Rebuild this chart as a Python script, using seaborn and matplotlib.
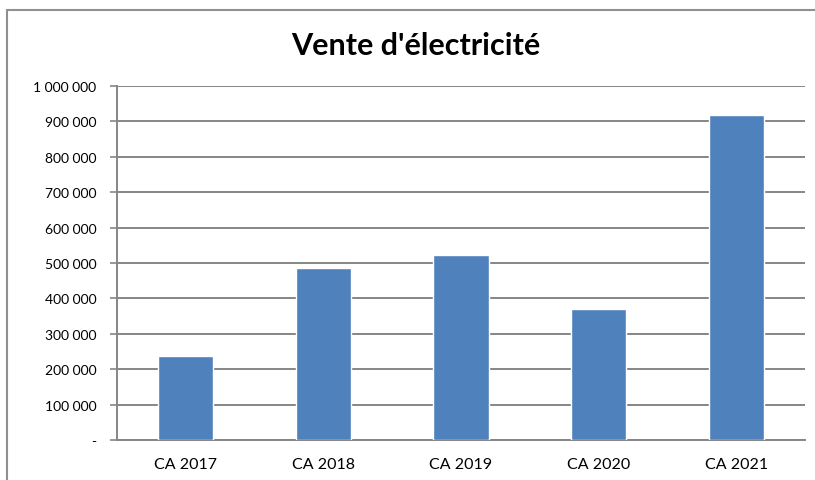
import pandas as pd
import matplotlib
matplotlib.use("Agg")
import matplotlib.pyplot as plt
import matplotlib.ticker as mticker
from matplotlib.lines import Line2D
import seaborn as sns

# Chart data
categories = ["CA 2017", "CA 2018", "CA 2019", "CA 2020", "CA 2021"]
ventes = [237000, 486000, 522000, 370000, 919000]

data = pd.DataFrame({"annee": categories, "vente": ventes})

sns.set_style("white")
plt.rcParams["font.family"] = ["Lato", "DejaVu Sans"]
plt.rcParams["text.color"] = "black"

grey = "#868686"
fig = plt.figure(figsize=(8.15, 4.81), dpi=100)
ax = fig.add_axes([117 / 815, 1 - 441 / 481, (805 - 117) / 815, (441 - 87) / 481])

sns.barplot(data=data, x="annee", y="vente", color="#4F81BD", saturation=1,
            width=0.4, ax=ax, zorder=3)

ax.set_ylim(0, 1000000)
ax.set_xlim(-0.5, len(categories) - 0.5)
ax.yaxis.set_major_locator(mticker.MultipleLocator(100000))


def fmt(v, pos):
    if v == 0:
        return "-"
    return f"{int(v):,}".replace(",", " ")


ax.yaxis.set_major_formatter(mticker.FuncFormatter(fmt))
ax.grid(axis="y", color=grey, linewidth=1.4, zorder=0)
ax.set_axisbelow(True)

# x ticks at category boundaries
ax.set_xticks([i - 0.5 for i in range(len(categories) + 1)], minor=True)
ax.tick_params(axis="x", which="major", length=0, pad=12, labelsize=11.5, labelcolor="black")
ax.tick_params(axis="x", which="minor", length=5, width=1.2, color=grey, direction="out")
ax.tick_params(axis="y", length=5, width=1.2, color=grey, direction="out", pad=10,
               labelsize=10, labelcolor="black", left=True)
ax.set_xlabel("")
ax.set_ylabel("")

for s in ["top", "right"]:
    ax.spines[s].set_visible(False)
for s in ["left", "bottom"]:
    ax.spines[s].set_color(grey)
    ax.spines[s].set_linewidth(1.4)

fig.text(0.51, 1 - 46 / 481, "Vente d'électricité", ha="center", va="center",
         fontsize=22, fontweight="bold", color="black")

# chart area border (only top and left are visible in the crop)
fig.add_artist(Line2D([7 / 815, 7 / 815], [0, 1 - 11 / 481], color="#909090",
                      linewidth=1.5, transform=fig.transFigure))
fig.add_artist(Line2D([7 / 815, 1], [1 - 11 / 481, 1 - 11 / 481], color="#909090",
                      linewidth=1.5, transform=fig.transFigure))

fig.savefig("out.png", dpi=100)
